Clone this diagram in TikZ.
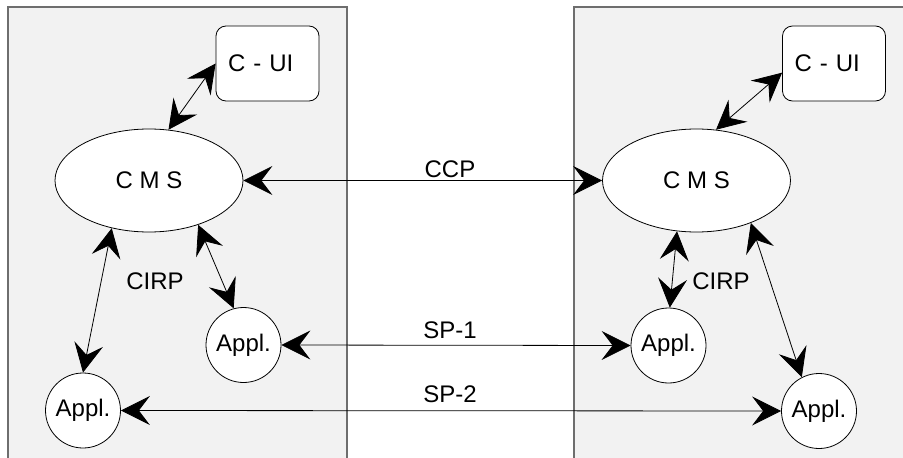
\documentclass[tikz,border=0pt]{standalone}
\usepackage{fontspec}
\setmainfont{Liberation Sans}
\usetikzlibrary{arrows.meta,shapes.geometric}
\definecolor{panelfill}{HTML}{F2F2F2}
\definecolor{panelline}{HTML}{6E6E6E}
\begin{document}
\begin{tikzpicture}[x=1pt,y=-1pt,
  every node/.style={font=\fontsize{24}{28}\selectfont},
  panel/.style={fill=panelfill, draw=panelline, line width=1.5pt},
  uibox/.style={draw, fill=white, rounded corners=10pt, minimum width=103pt, minimum height=75pt, text width=79pt, align=left, inner sep=0pt, line width=0.8pt},
  cmsnode/.style={draw, fill=white, ellipse, minimum width=188pt, minimum height=103pt, inner sep=0pt, line width=0.8pt},
  appnode/.style={draw, fill=white, circle, minimum size=75pt, inner sep=0pt, line width=0.8pt},
  tipshape/.tip={Stealth[length=29pt,width=29pt,inset=11pt]},
  conn/.style={line width=0.8pt, tipshape-tipshape},
  lbl/.style={inner sep=0pt}
]
\useasboundingbox[fill=white] (0,0) rectangle (903,458);
% panels
\path[panel] (8,462) -- (8,7) -- (347,7) -- (347,462);
\path[panel] (574,462) -- (574,7) -- (910,7) -- (910,462);
% left side
\node[uibox] (cui1) at (267.5,63.5) {C - UI};
\node[cmsnode] (cms1) at (149,180.5) {C M S};
\node[appnode] (app1a) at (243.5,345) {Appl.};
\node[appnode] (app1b) at (83,410.5) {Appl.};
% right side
\node[uibox] (cui2) at (834,63.5) {C - UI};
\node[cmsnode] (cms2) at (696.5,180.5) {C M S};
\node[appnode] (app2a) at (668.5,345.5) {Appl.};
\node[appnode] (app2b) at (819,411) {Appl.};
% labels
\node[lbl] (ccp) at (450,169) {CCP};
\node[lbl] (sp1) at (450,330) {SP-1};
\node[lbl] (sp2) at (450,394) {SP-2};
\node[lbl] (cirp1) at (155,281) {CIRP};
\node[lbl] (cirp2) at (721,281) {CIRP};
% connectors
\draw[conn] (cms1.69) -- (cui1.west);
\draw[conn] (cms2.69) -- (cui2.190);
\draw[conn] (cms1.east) -- (cms2.west);
\draw[conn] (cms1.232) -- (app1b.north);
\draw[conn] (cms1.-42) -- (app1a.105);
\draw[conn] (cms2.249) -- (app2a.88);
\draw[conn] (cms2.-38) -- (app2b.117);
\draw[conn] (app1a.east) -- (app2a.west);
\draw[conn] (app1b.east) -- (app2b.west);
\end{tikzpicture}
\end{document}
